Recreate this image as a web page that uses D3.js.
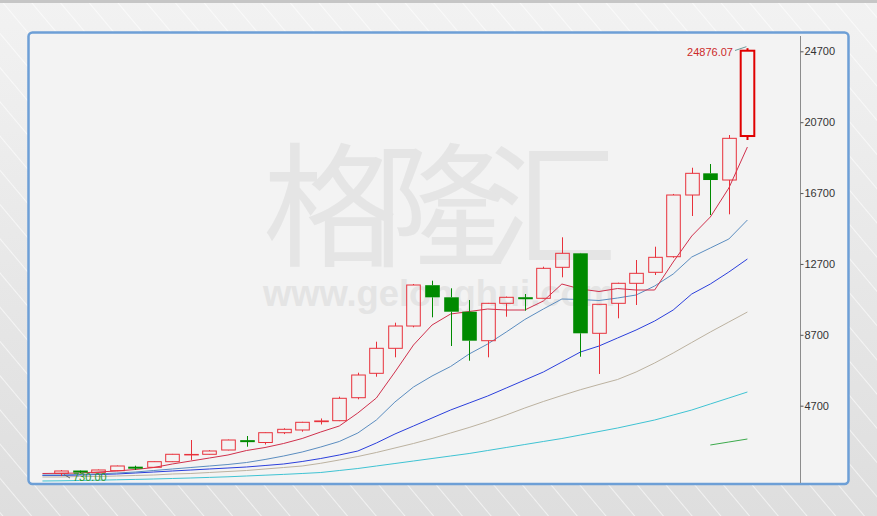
<!DOCTYPE html>
<html><head><meta charset="utf-8">
<script src="https://cdn.jsdelivr.net/npm/d3@7"></script>
<style>html,body{margin:0;padding:0;background:#e6e6e6;}svg{display:block;}</style>
</head><body>
<script>
// ---- data ----
const periods = d3.range(38);               // candle slots, left to right
const openV  = [885,1010,919,1032,1210,1224,1540,1930,1958,2200,2720,2623,3176,3329,3800,3854,5151,6528,7939,9197,11500,10817,10004,8368,10478,10790,10761,12510,13300,8786,10478,11607,12228,13108,16590,17814,17436,19919];
const highV  = [1070,1040,1100,1320,1314,1560,1980,2764,2190,2790,2990,3200,3425,3790,3980,5210,6562,8312,9384,11568,11754,11325,10665,10500,10860,11003,12544,14203,13320,10440,11641,12922,13672,16650,18130,18339,19976,24876.07];
const lowV   = [730,900,900,1010,1072,1184,1520,1640,1940,2180,2386,2510,3100,3233,3640,3830,5061,6336,7431,9124,9688,8069,7239,7431,9722,10061,10740,11946,7465,6489,9632,10382,12075,13050,15405,15461,15501,19693];
const closeV = [1015,960,1072,1297,1195,1540,1958,1950,2144,2764,2680,3176,3368,3763,3840,5118,6432,7939,9197,11511,10817,10004,8368,10478,10817,10740,12453,13300,8786,10422,11607,12171,13074,16590,17814,17436,19789,24733];
// moving-average lines, first value belongs to the slot before the first candle
const ma5   = [874,885,902,958,1015,1099,1212,1410,1579,1748,1918,2171,2341,2567,2849,3216,3554,4288,5134,6601,8125,9253,9874,10015,10157,10100,10100,10608,11567,11285,11144,11313,11229,11229,12809,14276,15348,16985,19298];
const ma10  = [789,789,817,846,902,958,1043,1128,1212,1297,1382,1494,1664,1861,2087,2369,2680,3159,3893,4908,5755,6376,6912,7617,8181,8858,9564,10156,10721,10693,10636,10777,10947,11455,12132,13091,13599,14107,15179];
const ma20  = [761,761,789,817,846,902,958,1015,1071,1128,1184,1241,1325,1410,1551,1720,1918,2143,2595,3103,3554,4005,4457,4852,5247,5698,6150,6601,7165,7730,8068,8520,8971,9479,10100,11003,11567,12244,12978];
const ma30  = [677,677,705,705,733,761,789,846,874,930,987,1043,1128,1212,1297,1450,1636,1834,2059,2313,2567,2849,3159,3470,3808,4175,4570,4937,5275,5603,5896,6178,6601,7110,7674,8267,8858,9423,9987];
const ma60  = [451,462,479,496,519,541,564,592,620,654,688,733,778,824,874,930,1043,1156,1297,1438,1579,1720,1861,2002,2171,2341,2510,2680,2849,3046,3244,3441,3667,3893,4175,4457,4796,5134,5473];
const ma120 = [2482,2651,2820];            // only the last three slots
const yTicks = [4700,8700,12700,16700,20700,24700];
const maxLabel = "24876.07", minLabel = "730.00";

const W = 877, H = 516;
const svg = d3.select("body").append("svg").attr("width", W).attr("height", H);
const defs = svg.append("defs");

// background
const g1 = defs.append("linearGradient").attr("id","bg").attr("x1",0).attr("y1",0).attr("x2",0).attr("y2",1);
g1.append("stop").attr("offset","0%").attr("stop-color","#f2f2f2");
g1.append("stop").attr("offset","100%").attr("stop-color","#dedede");
const pat = defs.append("pattern").attr("id","stripes").attr("patternUnits","userSpaceOnUse")
  .attr("width",22).attr("height",22).attr("patternTransform","rotate(-40)");
pat.append("line").attr("x1",0).attr("y1",0).attr("x2",0).attr("y2",22)
  .attr("stroke","#ffffff").attr("stroke-width",1.6).attr("stroke-opacity",0.75);
svg.append("rect").attr("width",W).attr("height",H).attr("fill","url(#bg)");
svg.append("rect").attr("width",W).attr("height",H).attr("fill","url(#stripes)");
svg.append("rect").attr("width",W).attr("height",3).attr("fill","#c6c6c6");

// panel
svg.append("rect").attr("x",28.5).attr("y",32.5).attr("width",820).attr("height",451.5)
  .attr("rx",4).attr("fill","#f3f3f3").attr("stroke","#6d9fd6").attr("stroke-width",2.5);

// watermark
svg.append("text").attr("x",263).attr("y",256).attr("textLength",354).attr("lengthAdjust","spacing")
  .attr("font-family","'Noto Sans CJK SC'").attr("font-weight",400).attr("font-size",134)
  .attr("fill","#e5e5e5").text("格隆汇");
svg.append("text").attr("x",263).attr("y",306).attr("textLength",352).attr("lengthAdjust","spacingAndGlyphs")
  .attr("font-family","'Liberation Sans',Arial").attr("font-weight","bold").attr("font-size",36)
  .attr("fill","#e4e4e4").text("www.gelonghui.com");

// scales
const x = d3.scaleLinear().domain([0, 37]).range([61, 747.4]);
const y = d3.scaleLinear().domain([4700, 24700]).range([405.7, 51.3]);
const bodyW = 13.6;

// axis
svg.append("line").attr("x1",800.5).attr("x2",800.5).attr("y1",36).attr("y2",483)
  .attr("stroke","#8c8c8c").attr("stroke-width",1);
const ax = svg.append("g").attr("transform","translate(800.5,0)")
  .call(d3.axisRight(y).tickValues(yTicks).tickSize(3).tickPadding(1).tickFormat(d3.format("d")));
ax.select(".domain").remove();
ax.selectAll(".tick line").attr("stroke","#555");
ax.selectAll(".tick text").attr("font-family","'Liberation Sans',Arial").attr("font-size",11).attr("fill","#333");

// MA lines
const mkLine = (arr, start) => d3.line().x((d,i)=>x(i+start)).y(d=>y(d))(arr);
const maDefs = [
  [ma60, -1, "#3fc3d3"],
  [ma30, -1, "#bcb2a0"],
  [ma20, -1, "#2b3fdc"],
  [ma10, -1, "#5b8dc0"],
  [ma5,  -1, "#d0304c"],
  [ma120, 35, "#3caa4c"]
];
maDefs.forEach(([arr, st, col]) => {
  svg.append("path").attr("d", mkLine(arr, st)).attr("fill","none")
    .attr("stroke", col).attr("stroke-width", 1);
});

// candles
const red = "#e8313b", green = "#008a00";
const cg = svg.append("g");
periods.forEach(i => {
  const o = openV[i], c = closeV[i], h = highV[i], l = lowV[i];
  const up = c >= o;
  const cx = Math.round(x(i)) + 0.5;
  const top = y(Math.max(o,c)), bot = y(Math.min(o,c));
  const last = i === periods.length - 1;
  const col = up ? (last ? "#e00000" : red) : green;
  const sw = last ? 2 : 1;
  cg.append("line").attr("x1",cx).attr("x2",cx).attr("y1",y(h)).attr("y2",top).attr("stroke",col).attr("stroke-width",sw);
  cg.append("line").attr("x1",cx).attr("x2",cx).attr("y1",bot).attr("y2",y(l)).attr("stroke",col).attr("stroke-width",sw);
  if (up) {
    cg.append("rect").attr("x",cx - bodyW/2).attr("y",top).attr("width",bodyW)
      .attr("height",Math.max(0.5, bot-top)).attr("fill","none").attr("stroke",col).attr("stroke-width",sw);
  } else {
    const hh = Math.max(2, bot-top);
    cg.append("rect").attr("x",cx - bodyW/2 - 0.5).attr("y",(top+bot)/2 - hh/2).attr("width",bodyW+1)
      .attr("height",hh).attr("fill",green);
  }
});

// max / min labels
const iMax = highV.indexOf(d3.max(highV)), iMin = lowV.indexOf(d3.min(lowV));
svg.append("line").attr("x1",735).attr("y1",50.5).attr("x2",x(iMax)-1).attr("y2",y(highV[iMax])-1.5)
  .attr("stroke","#6a9a9a").attr("stroke-width",1);
svg.append("text").attr("x",733).attr("y",55.5).attr("text-anchor","end")
  .attr("font-family","'Liberation Sans',Arial").attr("font-size",11).attr("fill","#cc2a2a").text(maxLabel);
svg.append("path").attr("d",`M${x(iMin)+9},${y(lowV[iMin])+2} L${x(iMin)+3},${y(lowV[iMin])-1.5}`)
  .attr("stroke","#666").attr("fill","none").attr("stroke-width",1);
svg.append("text").attr("x",73).attr("y",480.5)
  .attr("font-family","'Liberation Sans',Arial").attr("font-size",11).attr("fill","#2e9a2e").text(minLabel);
</script>
</body></html>
